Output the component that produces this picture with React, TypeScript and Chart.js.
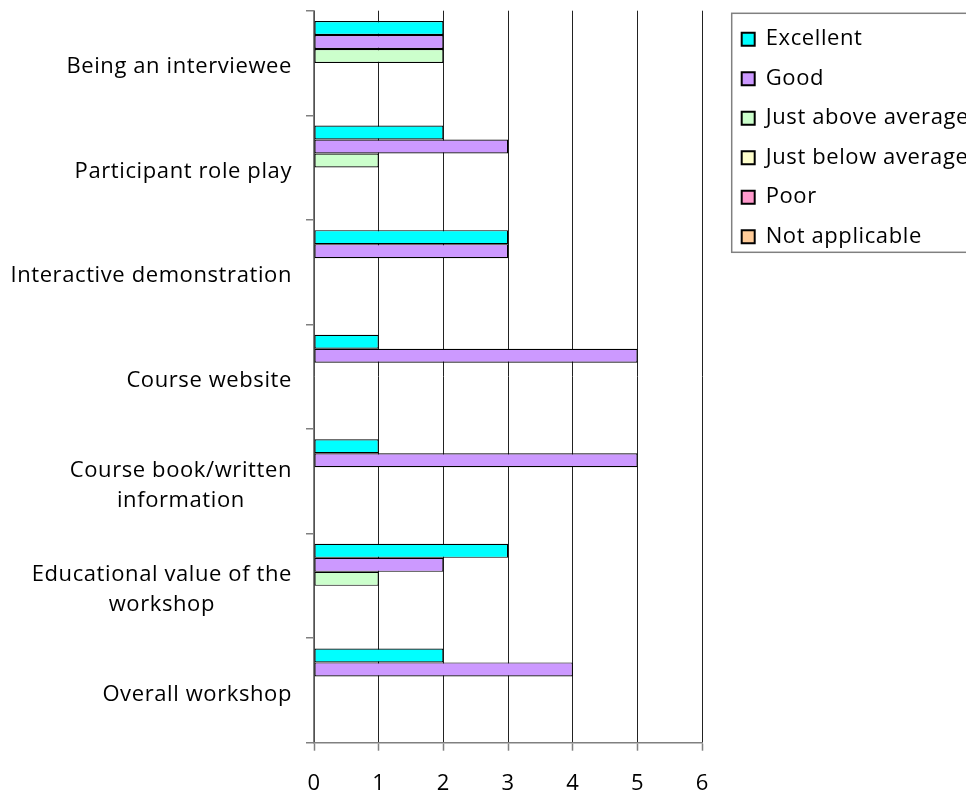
import React, { useEffect, useRef } from 'react';
import { Chart, registerables } from 'chart.js';

Chart.register(...registerables);

const categories: string[][] = [
  ['Being an interviewee'],
  ['Participant role play'],
  ['Interactive demonstration'],
  ['Course website'],
  ['Course book/written', 'information'],
  ['Educational value of the', 'workshop'],
  ['Overall workshop'],
];

const seriesNames = ['Excellent', 'Good', 'Just above average', 'Just below average', 'Poor', 'Not applicable'];
const seriesColors = ['#00FFFF', '#CC99FF', '#CCFFCC', '#FFFFCC', '#FF99CC', '#FFCC99'];

const excellent = [2, 2, 3, 1, 1, 3, 2];
const good = [2, 3, 3, 5, 5, 2, 4];
const justAboveAverage = [2, 1, 0, 0, 0, 1, 0];
const justBelowAverage = [0, 0, 0, 0, 0, 0, 0];
const poor = [0, 0, 0, 0, 0, 0, 0];
const notApplicable = [0, 0, 0, 0, 0, 0, 0];

const xMin = 0;
const xMax = 6;
const xStep = 1;

const FONT = '"Open Sans", "Noto Sans", sans-serif';
const FONT_SIZE = 22;
const LETTER_SPACING = '0.6px';
const LEGEND_PAD = 17.5;

const spacingPlugin = {
  id: 'spacingPlugin',
  beforeInit(chart: any) {
    chart.ctx.letterSpacing = LETTER_SPACING;
  },
  beforeUpdate(chart: any) {
    chart.ctx.letterSpacing = LETTER_SPACING;
  },
  beforeDraw(chart: any) {
    chart.ctx.letterSpacing = LETTER_SPACING;
  },
};

const yLabelPlugin = {
  id: 'yLabelPlugin',
  afterDraw(chart: any) {
    const ctx = chart.ctx;
    const yScale = chart.scales.y;
    ctx.save();
    ctx.letterSpacing = LETTER_SPACING;
    ctx.font = `${FONT_SIZE}px ${FONT}`;
    ctx.fillStyle = '#000';
    ctx.textAlign = 'center';
    ctx.textBaseline = 'middle';
    const right = yScale.right - 22;
    (chart.data.labels as any[]).forEach((lab, i) => {
      const lines: string[] = Array.isArray(lab) ? lab : [String(lab)];
      const cy = yScale.getPixelForValue(i) + 4;
      const maxW = Math.max(...lines.map((l) => ctx.measureText(l).width));
      const cx = right - maxW / 2;
      lines.forEach((l, j) => {
        ctx.fillText(l, cx, cy + (j - (lines.length - 1) / 2) * 30);
      });
    });
    ctx.restore();
  },
};

const legendBorderPlugin = {
  id: 'legendBorderPlugin',
  afterDraw(chart: any) {
    const lg = chart.legend;
    if (!lg) return;
    const ctx = chart.ctx;
    ctx.save();
    ctx.strokeStyle = '#808080';
    ctx.lineWidth = 1.5;
    ctx.strokeRect(lg.left + 7.5, 13.3, 400, 239);
    ctx.restore();
  },
};

export default function App() {
  const canvasRef = useRef<HTMLCanvasElement | null>(null);

  useEffect(() => {
    if (!canvasRef.current) return;
    const values = [excellent, good, justAboveAverage, justBelowAverage, poor, notApplicable];
    const chart = new Chart(canvasRef.current, {
      type: 'bar',
      data: {
        labels: categories,
        datasets: seriesNames.map((name, i) => ({
          label: name,
          data: values[i],
          backgroundColor: seriesColors[i],
          borderColor: '#000',
          borderWidth: 1.2,
          borderSkipped: false,
          categoryPercentage: 0.803,
          barPercentage: 1,
          xAxisID: 'x',
          yAxisID: 'y',
        })),
      },
      options: {
        indexAxis: 'y',
        responsive: false,
        animation: false,
        layout: { padding: { top: 10.7, right: 0, left: 0, bottom: 0 } },
        scales: {
          x: {
            type: 'linear',
            position: 'bottom',
            min: xMin,
            max: xMax,
            ticks: {
              stepSize: xStep,
              color: '#000',
              padding: 20,
              font: { family: FONT, size: FONT_SIZE },
            },
            grid: {
              color: '#222',
              lineWidth: 1,
              tickLength: 8,
              tickColor: '#808080',
              tickWidth: 1.5,
            },
            border: { color: '#808080', width: 1.5 },
            afterFit: (s: any) => {
              s.height = 796 - 742.7;
            },
          },
          y: {
            type: 'category',
            position: 'left',
            grid: {
              display: true,
              drawOnChartArea: false,
              offset: true,
              tickLength: 8,
              color: '#808080',
              lineWidth: 1.5,
            },
            ticks: { display: false },
            border: { color: '#808080', width: 1.5 },
            afterFit: (s: any) => {
              s.width = 314;
            },
          },
          y2: {
            type: 'linear',
            position: 'right',
            display: true,
            grid: { display: false },
            ticks: { display: false },
            border: { display: false },
            afterFit: (s: any) => {
              s.width = 724.2 - 702.3;
            },
          },
        },
        plugins: {
          tooltip: { enabled: false },
          legend: {
            position: 'right',
            align: 'start',
            maxWidth: 966 - 724.2,
            labels: {
              boxWidth: 13,
              boxHeight: 13,
              padding: LEGEND_PAD,
              color: '#000',
              font: { family: FONT, size: FONT_SIZE },
              generateLabels: (c: any) => {
                const items = Chart.defaults.plugins.legend.labels.generateLabels(c);
                return items.map((it: any) => ({ ...it, lineWidth: 2, strokeStyle: '#000' }));
              },
            },
          },
        },
      },
      plugins: [spacingPlugin, yLabelPlugin, legendBorderPlugin],
    } as any);
    return () => chart.destroy();
  }, []);

  return (
    <div style={{ position: 'fixed', left: 0, top: 0, width: 966, height: 796, overflow: 'hidden', background: '#fff' }}>
      <canvas ref={canvasRef} width={966} height={796} style={{ display: 'block' }} />
    </div>
  );
}
